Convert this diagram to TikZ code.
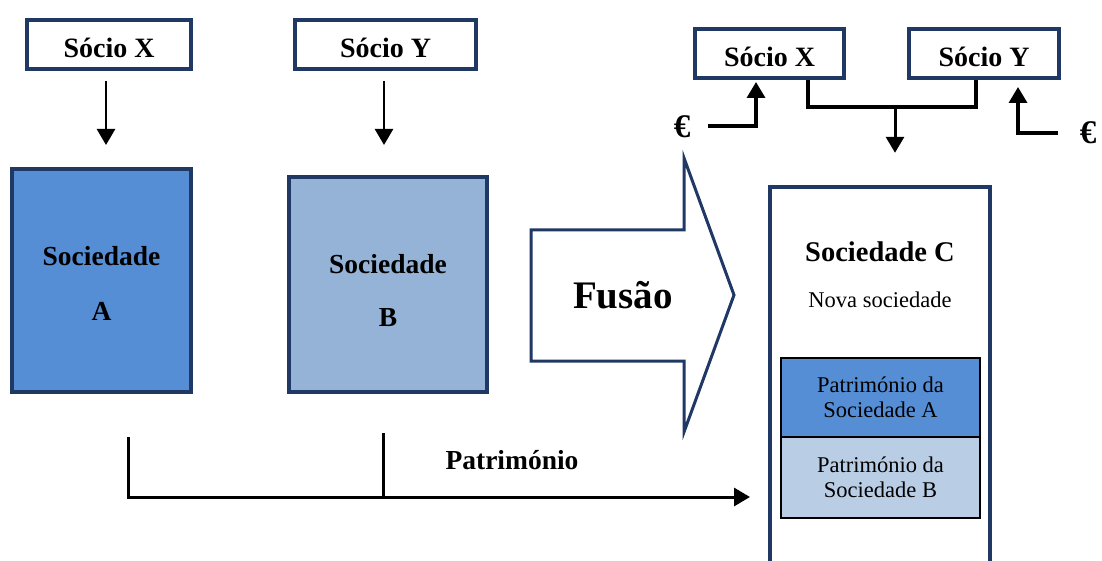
\documentclass[tikz,border=0pt]{standalone}
\usepackage{fontspec}
\setmainfont{Liberation Serif}
\usetikzlibrary{arrows.meta}
\definecolor{navy}{RGB}{31,56,100}
\definecolor{blueA}{RGB}{85,142,213}
\definecolor{blueB}{RGB}{149,179,215}
\definecolor{bluePB}{RGB}{185,205,229}

\begin{document}
\begin{tikzpicture}[x=1pt,y=-1pt,
  socio/.style={draw=navy,line width=4pt,fill=white,inner sep=0pt,
    font=\fontsize{28}{32}\selectfont\bfseries,text height=26.6pt,text depth=0pt},
  soc/.style={draw=navy,line width=4pt,inner sep=0pt},
  lbl/.style={inner sep=0pt,font=\fontsize{27.5}{32}\selectfont\bfseries},
  patr/.style={draw=black,line width=2pt,inner sep=0pt,minimum width=199pt,
    align=center,font=\fontsize{22.5}{25}\selectfont},
  arr/.style={-{Triangle[width=18pt,length=16pt]},line width=2.6pt},
  link/.style={line width=4pt},
  euro/.style={inner sep=0pt,font=\fontsize{33}{36}\selectfont\bfseries},
]
\fill[white] (0,0) rectangle (1102,561);
\useasboundingbox (0,0) rectangle (1102,561);

% --- before the merger: partners and companies A and B
\node[socio,minimum width=164pt,minimum height=49pt] (sX) at (109,44.5) {Sócio X};
\node[socio,minimum width=181pt,minimum height=49pt] (sY) at (385.5,44.5) {Sócio Y};
\node[soc,fill=blueA,minimum width=179pt,minimum height=223pt] (socA) at (101.5,280.5) {};
\node[soc,fill=blueB,minimum width=198pt,minimum height=215pt] (socB) at (388,284.5) {};
\node[lbl] (socAt1) at (101.5,256) {Sociedade};
\node[lbl] (socAt2) at (101.5,311) {A};
\node[lbl] (socBt1) at (388,264) {Sociedade};
\node[lbl] (socBt2) at (388,318) {B};

\draw[arr] ([xshift=-3pt,yshift=-10pt]sX.south) -- ([xshift=4.5pt,yshift=22pt]socA.north);
\draw[arr] ([xshift=-1.5pt,yshift=-10pt]sY.south) -- ([xshift=-4pt,yshift=30pt]socB.north);

% --- assets flowing into the new company
\coordinate (patEnd) at (750,497);
\draw[arr,line width=3pt] ([xshift=26.5pt,yshift=-43pt]socA.south) |- (patEnd);
\coordinate (bStub) at ([xshift=-5pt,yshift=-39pt]socB.south);
\draw[line width=3pt] (bStub) -- (bStub |- patEnd);
\node[lbl] (patLbl) at (512,460) {Património};

% --- merger block arrow
\draw[navy,line width=3pt,fill=white] (531,230) -- (684,230) -- (684,158) -- (734,295)
  -- (684,432) -- (684,361) -- (531,361) -- cycle;
\node[inner sep=0pt,font=\fontsize{39}{44}\selectfont\bfseries] (fusao) at (623,295) {Fusão};

% --- after the merger: company C
\node[socio,minimum width=149pt,minimum height=49pt] (rX) at (769.5,53.5) {Sócio X};
\node[socio,minimum width=150pt,minimum height=49pt] (rY) at (984,53.5) {Sócio Y};
\coordinate (join) at (895,105);
\draw[link] ([xshift=38.5pt]rX.south) |- ([xshift=-8pt,yshift=-27pt]rY.south) -- ([xshift=-8pt]rY.south);

\node[inner sep=0pt,minimum width=220pt,minimum height=378pt] (socC) at (880,376) {};
\draw[navy,line width=4pt] (socC.south west) -- (socC.north west) -- (socC.north east) -- (socC.south east);
\draw[arr,line width=3pt] (join) -- ([xshift=15pt,yshift=34pt]socC.north);

\node[inner sep=0pt,font=\fontsize{28.5}{32}\selectfont\bfseries] (socCt) at (880,252) {Sociedade C};
\node[inner sep=0pt,font=\fontsize{22.5}{25}\selectfont] (novaT) at (880,300) {Nova sociedade};
\node[patr,fill=blueA,minimum height=79pt] (patA) at (880.5,397.5) {Património da\\Sociedade A};
\node[patr,fill=bluePB,minimum height=81pt] (patB) at (880.5,477.5) {Património da\\Sociedade B};

% --- capital contributions
\node[euro] (eL) at (682,127) {€};
\node[euro] (eR) at (1088,133) {€};
\coordinate (eLs) at (708,126);
\coordinate (eRs) at (1058,133);
\draw[arr,line width=3.5pt] (eLs) -| ([xshift=-13.5pt,yshift=-2pt]rX.south);
\draw[arr,line width=3.5pt] (eRs) -| ([xshift=34pt,yshift=-7pt]rY.south);
\end{tikzpicture}
\end{document}
